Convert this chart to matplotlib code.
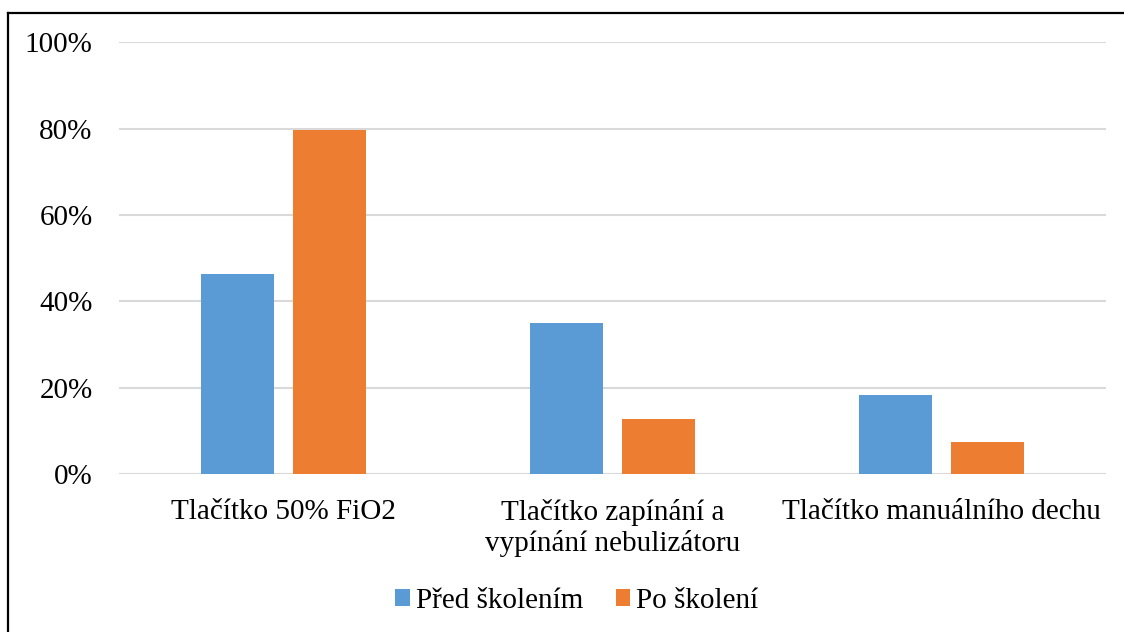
import matplotlib
matplotlib.use("Agg")
import matplotlib.pyplot as plt
from matplotlib.lines import Line2D
from matplotlib.ticker import PercentFormatter
import numpy as np

categories = ["Tlačítko 50% FiO2",
              "Tlačítko zapínání a\nvypínání nebulizátoru",
              "Tlačítko manuálního dechu"]
before = [0.463, 0.350, 0.183]
after = [0.796, 0.127, 0.073]
series_names = ["Před školením", "Po školení"]

BLUE = "#5B9BD5"
ORANGE = "#ED7D31"

plt.rcParams["font.family"] = ["Liberation Serif", "DejaVu Serif"]

W, H = 1124, 632
fig = plt.figure(figsize=(W / 100, H / 100), dpi=100)
ax = fig.add_axes([119 / W, 1 - 474 / H, (1106 - 119) / W, (474 - 42.3) / H])

x = np.arange(len(categories))
width = 0.222
off = 0.141
ax.bar(x - off, before, width, color=BLUE, label=series_names[0], zorder=3)
ax.bar(x + off, after, width, color=ORANGE, label=series_names[1], zorder=3)

ax.set_xlim(-0.5, len(categories) - 0.5)
ax.set_ylim(0, 1)
ax.set_yticks(np.arange(0, 1.01, 0.2))
ax.yaxis.set_major_formatter(PercentFormatter(1.0, decimals=0))
ax.grid(axis="y", color="#d9d9d9", linewidth=1.5, zorder=0)
for s in ax.spines.values():
    s.set_visible(False)
ax.tick_params(axis="y", length=0, pad=19, labelsize=21)
ax.tick_params(axis="x", length=0, pad=18, labelsize=21)
ax.set_xticks(x)
ax.set_xticklabels(categories, linespacing=1.2)

leg = fig.legend(loc="center", bbox_to_anchor=(577 / W, 1 - 601 / H), ncol=2,
                 frameon=False, fontsize=21, handlelength=0.51, handleheight=0.51,
                 handletextpad=0.2, columnspacing=1.1)

# chart border (left and top edges visible)
fig.add_artist(Line2D([8 / W, 8 / W], [0, 1 - 13 / H], color="black", linewidth=1.6,
                      transform=fig.transFigure))
fig.add_artist(Line2D([8 / W, 1], [1 - 13 / H, 1 - 13 / H], color="black", linewidth=1.6,
                      transform=fig.transFigure))

fig.savefig("out.png", dpi=100)
